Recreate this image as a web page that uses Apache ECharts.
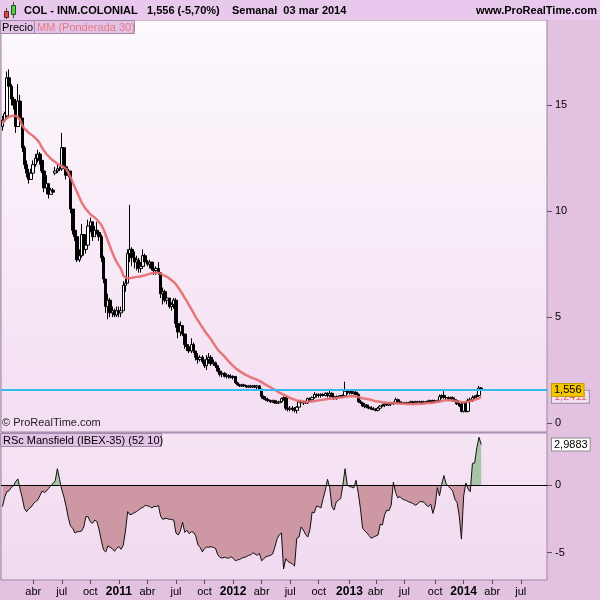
<!DOCTYPE html>
<html><head><meta charset="utf-8">
<script src="https://cdn.jsdelivr.net/npm/echarts@6/dist/echarts.min.js"></script>
<style>html,body{margin:0;padding:0;background:#E2C2E0;}#c{width:600px;height:600px;}</style>
</head><body><div id="c"></div>
<script>
// ---- data (weekly bars, first bar week of 2009-12-28) ----
const firstWeek = '2009-12-28';
const openP = [14.0,14.3,14.5,16.3,15.9,15.3,15.0,14.0,15.2,14.4,
13.0,12.2,11.8,11.5,11.8,12.2,12.5,12.7,12.4,11.9,
11.1,11.3,10.8,11.0,11.8,11.9,12.0,12.0,13.0,12.1,
11.7,11.9,10.1,9.1,8.8,7.7,7.9,8.9,8.2,8.4,
9.3,9.5,8.8,9.1,9.0,8.8,7.8,6.8,5.5,5.8,
5.2,5.3,5.1,5.3,5.2,5.3,6.5,6.6,8.0,
8.2,7.8,7.6,7.7,7.3,7.4,7.9,7.6,7.5,7.6,
7.3,7.2,7.3,7.1,6.1,6.2,5.8,5.9,5.5,5.6,
5.8,4.7,4.3,4.6,4.2,3.7,3.6,3.4,3.7,3.4,
3.1,3.0,3.1,2.9,2.7,3.0,3.1,2.8,2.85,2.7,
2.45,2.3,2.35,2.2,2.25,2.2,2.15,2.2,1.9,1.8,
1.75,1.8,1.75,1.7,1.75,1.7,1.75,1.7,1.75,1.6,
1.25,1.15,1.1,1.05,1.0,1.05,0.95,0.95,1.0,1.15,
1.2,0.7,0.65,0.7,0.65,0.6,0.75,1.0,0.95,1.0,
0.95,1.15,1.1,1.2,1.35,1.3,1.3,1.35,1.3,1.4,
1.3,1.4,1.25,1.15,1.25,1.25,1.3,1.3,1.5,1.45,
1.5,1.4,1.45,1.35,1.0,0.95,0.8,0.85,0.75,0.7,
0.65,0.65,0.6,0.7,0.8,0.85,0.9,0.85,0.9,
0.95,0.95,1.1,1.0,0.95,0.95,0.95,0.95,0.95,1.0,
0.95,1.0,1.0,1.0,0.95,1.0,1.0,1.05,1.0,1.05,
1.0,1.05,1.25,1.3,1.2,1.2,1.15,1.2,1.1,1.05,
0.9,0.8,0.55,0.95,0.55,1.05,1.1,1.2,1.25,1.3,1.65];
const highP = [14.5,14.7,16.6,16.7,16.0,15.4,15.3,16.0,15.5,14.4,
13.1,12.4,12.0,12.0,12.4,12.7,12.9,12.8,12.5,12.0,
11.7,11.3,11.1,11.1,12.1,12.2,12.1,13.7,13.0,12.1,
12.0,11.9,10.1,9.4,8.9,8.2,9.4,8.9,8.6,9.6,
9.7,9.5,9.3,9.5,9.1,8.9,7.9,6.8,6.1,5.9,
5.5,5.4,5.5,5.5,5.5,6.7,6.8,8.2,10.3,
8.3,8.1,7.9,7.8,7.6,8.2,8.0,7.7,7.7,7.6,
7.5,7.4,7.6,7.1,6.4,6.3,6.1,5.9,5.7,5.9,
5.9,4.8,4.8,4.6,4.2,4.0,3.7,4.0,3.8,3.4,
3.3,3.2,3.2,3.0,3.2,3.3,3.2,3.0,2.9,2.75,
2.6,2.4,2.4,2.35,2.3,2.3,2.25,2.2,1.95,1.85,
1.85,1.85,1.8,1.8,1.8,1.8,1.8,1.8,1.8,1.6,
1.3,1.2,1.2,1.1,1.1,1.1,1.05,1.05,1.2,1.25,
1.2,0.85,0.8,0.8,0.75,0.8,1.05,1.1,1.05,1.05,
1.2,1.2,1.25,1.45,1.4,1.4,1.4,1.4,1.45,1.45,
1.55,1.45,1.3,1.3,1.3,1.3,1.35,1.95,1.6,1.55,
1.55,1.5,1.5,1.4,1.1,1.0,0.95,0.9,0.85,0.8,
0.75,0.7,0.75,0.85,0.9,0.95,0.95,0.95,0.95,
1.0,1.2,1.15,1.05,1.0,1.0,1.0,1.0,1.05,1.05,
1.05,1.05,1.05,1.05,1.05,1.05,1.1,1.1,1.1,1.1,
1.1,1.35,1.35,1.5,1.3,1.25,1.25,1.25,1.2,1.1,
1.0,0.95,1.0,1.0,1.15,1.2,1.3,1.3,1.35,1.75,1.7];
const lowP = [13.8,14.2,14.4,15.6,15.0,14.8,13.7,14.0,14.1,12.8,
12.0,11.6,11.3,11.5,11.7,12.1,12.3,12.2,11.8,10.9,
10.8,10.6,10.8,10.8,11.7,11.8,11.9,11.9,12.0,11.5,
11.6,9.9,8.9,8.6,7.6,7.6,7.8,7.9,8.0,8.3,
9.0,8.6,8.8,8.9,8.6,7.6,6.6,5.2,4.9,5.0,
5.0,5.0,5.0,5.0,5.0,5.3,6.2,6.6,7.6,
7.4,7.3,7.2,7.1,7.1,7.3,7.4,7.4,7.3,7.2,
7.0,7.0,7.0,5.9,5.6,5.7,5.6,5.4,5.3,5.4,
4.5,4.0,4.1,4.1,3.5,3.4,3.3,3.3,3.3,2.95,
2.8,2.9,2.8,2.6,2.5,2.8,2.7,2.7,2.6,2.4,
2.2,2.15,2.15,2.1,2.1,2.1,2.05,1.85,1.75,1.7,
1.7,1.7,1.65,1.65,1.65,1.65,1.65,1.6,1.55,1.15,
1.1,1.05,1.0,0.95,0.95,0.9,0.9,0.9,0.95,1.05,
0.6,0.55,0.55,0.55,0.5,0.45,0.7,0.85,0.85,0.9,
0.9,1.0,1.05,1.15,1.2,1.2,1.2,1.25,1.25,1.2,
1.2,1.2,1.1,1.1,1.2,1.2,1.2,1.25,1.35,1.35,
1.35,1.35,1.3,0.95,0.9,0.75,0.7,0.7,0.65,0.6,
0.6,0.55,0.55,0.65,0.75,0.75,0.8,0.8,0.8,
0.85,0.9,0.95,0.9,0.9,0.9,0.9,0.9,0.9,0.9,
0.9,0.95,0.95,0.9,0.9,0.95,0.95,0.95,0.95,0.95,
0.95,1.0,1.15,1.15,1.1,1.05,1.05,1.0,1.0,0.85,
0.75,0.5,0.5,0.5,0.5,0.95,1.0,1.1,1.15,1.25,1.5];
const closeP = [14.3,14.6,16.3,15.9,15.3,15.0,14.0,15.2,14.4,13.0,
12.2,11.8,11.5,11.8,12.2,12.5,12.7,12.4,11.9,11.1,
11.3,10.8,11.0,10.9,11.9,12.0,12.0,13.0,12.1,11.7,
11.9,10.1,9.1,8.8,7.7,7.9,8.9,8.2,8.4,9.3,
9.5,8.8,9.1,9.0,8.8,7.8,6.8,5.5,5.8,5.2,
5.3,5.1,5.3,5.2,5.3,6.5,6.6,8.0,8.2,
7.8,7.6,7.7,7.3,7.4,7.9,7.6,7.5,7.6,7.3,
7.2,7.3,7.1,6.1,6.2,5.8,5.9,5.5,5.6,5.8,
4.7,4.3,4.6,4.2,3.7,3.6,3.4,3.7,3.4,3.1,
3.0,3.1,2.9,2.7,3.0,3.1,2.8,2.85,2.7,2.45,
2.3,2.35,2.2,2.25,2.2,2.15,2.2,1.9,1.8,1.75,
1.8,1.75,1.7,1.75,1.7,1.75,1.7,1.75,1.6,1.25,
1.15,1.1,1.05,1.0,1.05,0.95,0.95,1.0,1.15,1.2,
0.7,0.65,0.7,0.65,0.6,0.75,1.0,0.95,1.0,0.95,
1.15,1.1,1.2,1.35,1.3,1.3,1.35,1.3,1.4,1.3,
1.4,1.25,1.15,1.25,1.25,1.3,1.3,1.5,1.45,1.5,
1.4,1.45,1.35,1.0,0.95,0.8,0.85,0.75,0.7,0.65,
0.65,0.6,0.7,0.8,0.85,0.9,0.85,0.9,0.95,
0.95,1.1,1.0,0.95,0.95,0.95,0.95,0.95,1.0,0.95,
1.0,1.0,1.0,0.95,1.0,1.0,1.05,1.0,1.05,1.0,
1.05,1.25,1.3,1.2,1.2,1.15,1.2,1.1,1.05,0.9,
0.8,0.55,0.95,0.55,1.05,1.1,1.2,1.25,1.3,1.65,1.556];
const maW30 = [14.15,14.3,14.4,14.45,14.5,14.5,14.5,14.45,14.3,14.05,
13.9,13.8,13.7,13.62,13.55,13.45,13.35,13.2,13.0,12.85,
12.7,12.6,12.48,12.4,12.32,12.24,12.18,12.14,12.08,12.0,
11.8,11.6,11.35,11.12,10.9,10.65,10.42,10.25,10.1,9.98,
9.86,9.78,9.7,9.6,9.48,9.35,9.15,8.88,8.6,8.32,
8.05,7.8,7.6,7.42,7.27,6.97,6.86,6.83,6.84,
6.86,6.88,6.9,6.91,6.93,6.95,6.98,7.01,7.04,7.07,
7.09,7.1,7.09,7.06,7.0,6.95,6.9,6.82,6.74,6.65,
6.55,6.4,6.25,6.08,5.9,5.74,5.56,5.38,5.2,5.0,
4.84,4.68,4.52,4.36,4.22,4.08,3.94,3.78,3.62,3.47,
3.35,3.25,3.15,3.03,2.9,2.8,2.7,2.6,2.52,2.45,
2.38,2.32,2.26,2.21,2.16,2.12,2.08,2.04,1.99,1.93,
1.86,1.8,1.74,1.69,1.63,1.57,1.5,1.44,1.39,1.34,
1.28,1.23,1.18,1.14,1.1,1.06,1.04,1.02,1.01,1.0,
1.0,1.01,1.02,1.04,1.05,1.07,1.08,1.1,1.12,1.13,
1.15,1.16,1.17,1.18,1.19,1.21,1.22,1.24,1.25,1.26,
1.26,1.26,1.25,1.23,1.2,1.17,1.15,1.13,1.11,1.09,
1.05,1.03,1.01,1.0,0.98,0.97,0.96,0.95,0.94,
0.94,0.93,0.92,0.92,0.91,0.91,0.9,0.9,0.9,0.89,
0.9,0.9,0.91,0.91,0.92,0.93,0.94,0.95,0.96,0.98,
1.0,1.02,1.04,1.06,1.07,1.08,1.07,1.06,1.04,1.02,
1.0,0.98,0.98,0.99,1.01,1.04,1.07,1.1,1.13,1.17,1.2411];
const rsMansfield = [-1.6,-0.9,-0.5,-0.42,-0.17,-0.07,0.25,0.45,-0.3,-0.95,-1.75,-1.97,
-1.75,-1.65,-1.4,-1.23,-1.12,-0.8,-0.45,
-0.55,-0.45,-0.25,-0.05,0.1,0.3,1.2,0.4,-0.35,-0.9,
-1.6,-2.45,-3.05,-3.2,-3.55,-3.45,-3.45,-3.4,-3.1,-2.33,
-2.35,-2.72,-2.83,-2.6,-2.7,-3.3,-4.1,-4.8,-4.95,-4.5,
-4.6,-4.7,-4.9,-4.68,-4.56,-4.75,-4.45,-3.4,-1.97,-2.2,
-2.15,-2.05,-1.97,-1.85,-1.72,-1.65,-1.5,-1.55,-1.58,-1.7,
-1.58,-1.6,-1.52,-2.3,-2.55,-2.46,-2.48,-2.54,-2.55,-2.6,
-3.55,-3.69,-3.4,-2.75,-3.5,-3.35,-3.6,-3.45,-3.5,-3.75,
-4.43,-4.6,-4.95,-4.7,-4.58,-4.6,-4.56,-4.62,-4.68,
-5.15,-5.35,-5.4,-5.34,-5.38,-5.42,-5.3,-5.4,-5.6,-5.54,
-5.5,-5.4,-5.35,-5.3,-5.2,-5.17,-5.0,-5.1,-5.2,-5.05,
-5.6,-5.45,-5.3,-5.25,-5.2,-5.1,-4.6,-4.0,-3.69,-3.55,
-6.2,-5.45,-5.65,-5.74,-5.84,-5.99,-3.94,-3.85,-3.1,-3.33,
-3.65,-3.85,-3.3,-2.0,-2.05,-1.55,-1.6,-1.7,-1.0,-0.4,
0.42,-0.2,-1.6,-1.85,-1.25,-1.12,-1.0,0.0,1.2,0.0,
-0.12,-0.15,-0.22,0.35,-0.6,-1.75,-3.2,-3.4,-3.55,-3.75,
-3.94,-3.85,-3.77,-3.7,-2.9,-2.95,-2.2,-1.85,-1.9,
-1.5,0.2,-0.55,-0.95,-0.86,-1.03,-1.1,-1.16,-1.25,-1.3,
-1.38,-1.5,-1.4,-1.23,-1.23,-1.28,-1.5,-1.6,-1.42,-2.1,
-1.5,-0.2,-0.8,0.05,0.7,0.1,-0.1,-0.25,-0.45,-1.05,
-1.3,-2.3,-4.0,-0.8,0.15,-0.3,-0.5,1.6,1.62,2.75,3.52,2.9883];
const xTickDates = ['2010-04-05','2010-07-05','2010-10-04','2011-01-03','2011-04-04','2011-07-04','2011-10-03',
'2012-01-02','2012-04-02','2012-07-02','2012-10-01','2013-01-07','2013-04-01','2013-07-01','2013-10-07',
'2014-01-06','2014-04-07','2014-07-07'];
const xTickLabels = ['abr','jul','oct','2011','abr','jul','oct','2012','abr','jul','oct','2013','abr','jul','oct','2014','abr','jul'];
const priceTicks = [0,5,10,15];
const rsTicks = [-5,0];
const lastClose = 1.556, lastCloseText = '1,556';
const lastMA = 1.2411, lastMAText = '1,2411';
const lastRS = 2.9883, lastRSText = '2,9883';

// ---- build ----
const DAY = 86400000;
const t0 = Date.parse(firstWeek + 'T00:00:00Z');
const dates = closeP.map((_, k) => t0 + k * 7 * DAY);
const pxPerDay = 2.196 / 7;
const xMin = t0 - (1.5 / pxPerDay) * DAY;
const xMax = xMin + (546 / pxPerDay) * DAY;
const tickTimes = xTickDates.map(s => Date.parse(s + 'T00:00:00Z'));

const candleData = dates.map((d, k) => [d, openP[k], closeP[k], lowP[k], highP[k]]);
const maData = dates.map((d, k) => [d, maW30[k]]);
const rsData = dates.map((d, k) => [d, rsMansfield[k]]);

const FONT = "'Liberation Sans', Arial, sans-serif";
const chart = echarts.init(document.getElementById('c'), null, {renderer: 'canvas', width: 600, height: 600});

function xLabel(v) {
  let best = 0, bd = Infinity;
  tickTimes.forEach((t, i) => { const d = Math.abs(t - v); if (d < bd) { bd = d; best = i; } });
  const s = xTickLabels[best];
  return /^\d{4}$/.test(s) ? '{yr|' + s + '}' : s;
}

// RS panel layout and two-tone fill split exactly at the zero value
const rsGrid = {top: 433, height: 147};
const rsMin = -7.02, rsMax = 3.84;
const zeroFrac = rsMax / (rsMax - rsMin);
const rsFill = {type: 'linear', global: true, x: 0, y: rsGrid.top, x2: 0, y2: rsGrid.top + rsGrid.height,
  colorStops: [{offset: 0, color: '#A9C5A7'}, {offset: zeroFrac, color: '#A9C5A7'},
               {offset: zeroFrac, color: '#CD97A4'}, {offset: 1, color: '#CD97A4'}]};

const option = {
  animation: false,
  backgroundColor: '#E2C2E0',
  textStyle: {fontFamily: FONT},
  grid: [
    {left: 1, top: 20, width: 546, height: 412, show: true, borderColor: '#9C84A3', borderWidth: 1,
     backgroundColor: {type: 'linear', x: 0, y: 0, x2: 0, y2: 1, colorStops: [{offset: 0, color: '#FDF9FD'}, {offset: 1, color: '#F3DEF2'}]}},
    {left: 1, top: rsGrid.top, width: 546, height: rsGrid.height, show: true, borderColor: '#9C84A3', borderWidth: 1,
     backgroundColor: {type: 'linear', x: 0, y: 0, x2: 0, y2: 1, colorStops: [{offset: 0, color: '#F6E5F5'}, {offset: 1, color: '#F1D9EF'}]}}
  ],
  xAxis: [
    {gridIndex: 0, type: 'value', min: xMin, max: xMax, show: false, scale: true},
    {gridIndex: 1, type: 'value', min: xMin, max: xMax, scale: true, position: 'bottom',
     axisLine: {show: false, onZero: false}, splitLine: {show: false},
     axisTick: {show: true, customValues: tickTimes, length: 4, lineStyle: {color: '#555'}},
     axisLabel: {customValues: tickTimes, formatter: xLabel, color: '#000', fontSize: 11, margin: 6,
       rich: {yr: {fontWeight: 'bold', fontSize: 12, color: '#000', fontFamily: FONT}}}}
  ],
  yAxis: [
    {gridIndex: 0, type: 'value', position: 'right', min: -0.425, max: 19.03,
     axisLine: {show: false, onZero: false}, splitLine: {show: false},
     axisTick: {show: true, customValues: priceTicks, length: 5, lineStyle: {color: '#555'}},
     axisLabel: {customValues: priceTicks, color: '#000', fontSize: 11, margin: 8}},
    {gridIndex: 1, type: 'value', position: 'right', min: rsMin, max: rsMax,
     axisLine: {show: false, onZero: false}, splitLine: {show: false},
     axisTick: {show: true, customValues: rsTicks, length: 5, lineStyle: {color: '#555'}},
     axisLabel: {customValues: rsTicks, color: '#000', fontSize: 11, margin: 8}}
  ],
  series: [
    {type: 'candlestick', xAxisIndex: 0, yAxisIndex: 0, data: candleData,
     encode: {x: 0, y: [1, 2, 3, 4]}, barWidth: 3, z: 2,
     itemStyle: {color: '#FFFFFF', color0: '#000000', borderColor: '#000000', borderColor0: '#000000', borderWidth: 1},
     markLine: {silent: true, symbol: ['none', 'none'], z: 6,
       data: [{yAxis: lastClose}],
       lineStyle: {color: '#33B9EE', width: 2, type: 'solid'},
       label: {show: true, position: 'end', distance: 5, formatter: lastCloseText, color: '#000', fontSize: 11,
         backgroundColor: '#F3C600', borderColor: '#C9A000', borderWidth: 1, padding: [1, 2, 0, 2]}}},
    {type: 'line', xAxisIndex: 0, yAxisIndex: 0, data: maData, symbol: 'none', z: 3,
     lineStyle: {color: '#E46A6C', width: 2.5, opacity: 0.9},
     markLine: {silent: true, symbol: ['none', 'none'], z: 5,
       data: [{yAxis: lastMA}],
       lineStyle: {width: 1, color: 'rgba(0,0,0,0)'},
       label: {show: true, position: 'end', distance: 5, formatter: lastMAText, color: '#E0606C', fontSize: 11,
         backgroundColor: '#F3E0F1', borderColor: '#A08AA8', borderWidth: 1, padding: [1, 2, 0, 2]}}},
    {type: 'line', xAxisIndex: 1, yAxisIndex: 1, data: rsData, symbol: 'none', z: 3,
     lineStyle: {color: '#111111', width: 1},
     areaStyle: {color: rsFill, opacity: 1},
     markLine: {silent: true, symbol: ['none', 'none'], z: 5,
       data: [
         {yAxis: 0, lineStyle: {color: '#000', width: 1, type: 'solid'}, label: {show: false}},
         {yAxis: lastRS, lineStyle: {width: 1, color: 'rgba(0,0,0,0)'},
          label: {show: true, position: 'end', distance: 5, formatter: lastRSText, color: '#000', fontSize: 11,
            backgroundColor: '#FFFFFF', borderColor: '#8C8C8C', borderWidth: 1, padding: [1, 2, 0, 2]}}
       ]}}
  ],
  graphic: [
    {type: 'rect', z: 10, shape: {x: 0, y: 0, width: 600, height: 20}, style: {fill: '#E8C8EC'}},
    {type: 'line', z: 11, shape: {x1: 6.5, y1: 8, x2: 6.5, y2: 19}, style: {stroke: '#553', lineWidth: 1}},
    {type: 'rect', z: 12, shape: {x: 4.5, y: 11.5, width: 4, height: 6}, style: {fill: '#E04848', stroke: '#552222', lineWidth: 1}},
    {type: 'line', z: 11, shape: {x1: 13.5, y1: 2, x2: 13.5, y2: 18}, style: {stroke: '#353', lineWidth: 1}},
    {type: 'rect', z: 12, shape: {x: 11.5, y: 5.5, width: 4, height: 9}, style: {fill: '#4CD048', stroke: '#225522', lineWidth: 1}},
    {type: 'text', z: 12, x: 24, y: 11, style: {text: 'COL - INM.COLONIAL', font: 'bold 11px ' + FONT, fill: '#000', verticalAlign: 'middle'}},
    {type: 'text', z: 12, x: 147, y: 11, style: {text: '1,556 (-5,70%)', font: 'bold 11px ' + FONT, fill: '#000', verticalAlign: 'middle'}},
    {type: 'text', z: 12, x: 232, y: 11, style: {text: 'Semanal  03 mar 2014', font: 'bold 11px ' + FONT, fill: '#000', verticalAlign: 'middle'}},
    {type: 'text', z: 12, x: 597, y: 11, style: {text: 'www.ProRealTime.com', font: 'bold 11px ' + FONT, fill: '#000', align: 'right', verticalAlign: 'middle'}},
    {type: 'rect', z: 12, shape: {x: 0.5, y: 20.5, width: 34, height: 13}, style: {fill: '#E2C2E6', stroke: '#A08AA8', lineWidth: 1}},
    {type: 'text', z: 13, x: 2, y: 27.5, style: {text: 'Precio', font: '11px ' + FONT, fill: '#000', verticalAlign: 'middle'}},
    {type: 'rect', z: 12, shape: {x: 34.5, y: 20.5, width: 100, height: 13}, style: {fill: '#E2C2E6', stroke: '#A08AA8', lineWidth: 1}},
    {type: 'text', z: 13, x: 37, y: 27.5, style: {text: 'MM (Ponderada 30)', font: '11px ' + FONT, fill: '#E77A82', verticalAlign: 'middle'}},
    {type: 'text', z: 13, x: 2, y: 423, style: {text: '\u00A9 ProRealTime.com', font: '11px ' + FONT, fill: '#222', verticalAlign: 'middle'}},
    {type: 'rect', z: 12, shape: {x: 0.5, y: 433.5, width: 161, height: 13}, style: {fill: '#E2C2E6', stroke: '#A08AA8', lineWidth: 1}},
    {type: 'text', z: 13, x: 3, y: 440.5, style: {text: 'RSc Mansfield (IBEX-35) (52 10)', font: '11px ' + FONT, fill: '#000', verticalAlign: 'middle'}}
  ]
};
chart.setOption(option);
</script>
</body></html>
